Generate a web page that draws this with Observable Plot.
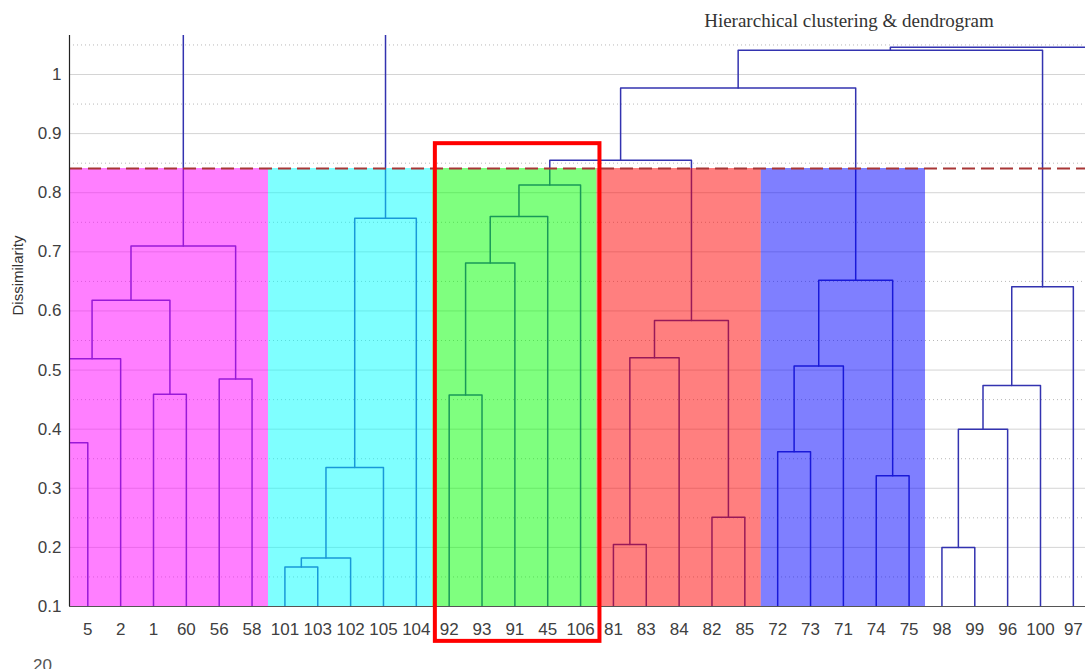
<!DOCTYPE html>
<html>
<head>
<meta charset="utf-8">
<script src="https://cdn.jsdelivr.net/npm/d3@7"></script>
<script src="https://cdn.jsdelivr.net/npm/@observablehq/plot@0.6"></script>
<style>
  html, body { margin: 0; padding: 0; background: #fff; overflow: hidden; }
  #wrap { position: relative; width: 1085px; height: 669px; }
  #title { position: absolute; left: 649px; top: 11px; width: 400px; text-align: center;
           font: 19px/19px "Liberation Serif", "Times New Roman", serif; color: #333; white-space: nowrap; }
  #frag { position: absolute; left: 33px; top: 657px; font: 17px/17px "Liberation Sans", Arial, sans-serif; color: #555; }
</style>
</head>
<body>
<div id="wrap">
  <div id="chart"></div>
  <div id="title">Hierarchical clustering &amp; dendrogram</div>
  <div id="frag">20</div>
</div>
<script>
// ---- data ----
const leafLabels = ["5","2","1","60","56","58","101","103","102","105","104","92","93","91","45","106",
                    "81","83","84","82","85","72","73","71","74","75","98","99","96","100","97"];
// subtrees that continue outside the visible window (position in leaf units, merge height)
const hiddenIds = ["offL", "offR"];
const hiddenPos = [-0.48, 36];
const hiddenHeight = [0.3, 1.0];
// merges: [id, childA, childB, height]
const merges = [
  ["m1","offL","5",0.377], ["m2","m1","2",0.519], ["m3","1","60",0.459], ["m4","m2","m3",0.618],
  ["m5","56","58",0.485], ["m6","m4","m5",0.710],
  ["c1","101","103",0.167], ["c2","c1","102",0.182], ["c3","c2","105",0.335], ["c4","c3","104",0.757],
  ["mc","m6","c4",1.15],
  ["g1","92","93",0.458], ["g2","g1","91",0.681], ["g3","g2","45",0.760], ["g4","g3","106",0.813],
  ["r1","81","83",0.205], ["r2","r1","84",0.521], ["r3","82","85",0.251], ["r4","r2","r3",0.584],
  ["r5","g4","r4",0.855],
  ["b1","72","73",0.362], ["b2","b1","71",0.507], ["b3","74","75",0.321], ["b4","b2","b3",0.652],
  ["t1","r5","b4",0.977],
  ["w1","98","99",0.200], ["w2","w1","96",0.400], ["w3","w2","100",0.474], ["w4","w3","97",0.641],
  ["t2","t1","w4",1.041], ["t3","t2","offR",1.046]
];
const clusterColors = ["#ff00ff","#00ffff","#00ff00","#ff0000","#0000ff"];
const clusterFirst = ["offL","101","92","81","72"];
const clusterLast  = ["58","104","106","85","75"];
const cutoff = 0.841;
const yTicks = [0.1,0.2,0.3,0.4,0.5,0.6,0.7,0.8,0.9,1];
const yMinor = [0.15,0.25,0.35,0.45,0.55,0.65,0.75,0.85,0.95,1.05];
const xDomain = [0.443, 31.37];
const yDomain = [0.1, 1.066];
const yLabelAt = 0.66;
const boxFirst = "92", boxLast = "106";
const boxTop = 0.883, boxBottom = 0.041;

// ---- tree layout ----
const pos = new Map(), ht = new Map();
leafLabels.forEach((l, i) => { pos.set(l, i + 1); ht.set(l, 0); });
hiddenIds.forEach((id, i) => { pos.set(id, hiddenPos[i]); ht.set(id, hiddenHeight[i]); });
const pts = [];
for (const [id, a, b, h] of merges) {
  const pa = pos.get(a), pb = pos.get(b);
  pts.push({id, x: pa, y: ht.get(a)}, {id, x: pa, y: h}, {id, x: pb, y: h}, {id, x: pb, y: ht.get(b)});
  pos.set(id, (pa + pb) / 2); ht.set(id, h);
}
const bands = clusterColors.map((c, i) => ({x1: pos.get(clusterFirst[i]) - 0.5, x2: pos.get(clusterLast[i]) + 0.5, color: c}));
const box = [{x1: pos.get(boxFirst) - 0.42, x2: pos.get(boxLast) + 0.59, y1: boxBottom, y2: boxTop}];
const lineColor = "#3333b0";

const chart = Plot.plot({
  width: 1085, height: 669,
  marginLeft: 69, marginRight: 0, marginTop: 35, marginBottom: 63,
  x: {domain: xDomain},
  y: {domain: yDomain},
  color: {type: "identity"},
  style: {fontFamily: "'Liberation Sans', Arial, sans-serif", fontSize: "17px", color: "#404040", background: "white"},
  marks: [
    Plot.ruleY(yTicks, {stroke: "#d4d4d4", strokeWidth: 1}),
    Plot.ruleY(yMinor, {stroke: "#b8b8b8", strokeWidth: 1, strokeDasharray: "1,3"}),
    Plot.line(pts, {x: "x", y: "y", z: "id", stroke: lineColor, strokeWidth: 1.5, clip: true}),
    Plot.rect(bands, {x1: "x1", x2: "x2", y1: yDomain[0], y2: cutoff, fill: "color", fillOpacity: 0.5, clip: true}),
    Plot.ruleY([cutoff], {stroke: "#a83636", strokeWidth: 1.8, strokeDasharray: "13,6"}),
    Plot.ruleY([yDomain[0]], {stroke: "#555", strokeWidth: 1.2}),
    Plot.ruleX([xDomain[0]], {stroke: "#222", strokeWidth: 1.2}),
    Plot.axisY({ticks: yTicks, tickFormat: d => d === 1 ? "1" : d3.format(".1f")(d), tickSize: 0, tickPadding: 8, label: null}),
    Plot.axisX({ticks: leafLabels.map((l, i) => i + 1), tickFormat: i => leafLabels[i - 1], tickSize: 0, tickPadding: 16.5, label: null}),
    Plot.text(["Dissimilarity"], {x: xDomain[0], y: yLabelAt, dx: -51, rotate: -90, fontSize: 15, fill: "#333"}),
    Plot.rect(box, {x1: "x1", x2: "x2", y1: "y1", y2: "y2", fill: "none", stroke: "#ff0000", strokeWidth: 4})
  ]
});
document.getElementById("chart").appendChild(chart);
</script>
</body>
</html>
